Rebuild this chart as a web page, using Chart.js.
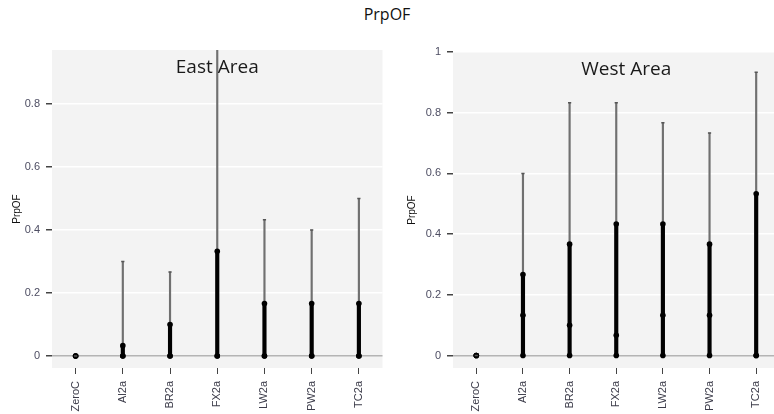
<!DOCTYPE html>
<html>
<head>
<meta charset="utf-8">
<script src="https://cdn.jsdelivr.net/npm/chart.js@4.4.0/dist/chart.umd.min.js"></script>
<style>
  html, body { margin: 0; padding: 0; background: #fff; overflow: hidden; width: 774px; height: 414px; }
  #mainTitle { position: absolute; left: 0; top: 3px; width: 774px; text-align: center;
    font-family: "Open Sans", sans-serif; font-size: 16px; color: #111; }
  #eastBox { position: absolute; left: 0; top: 30px; }
  #westBox { position: absolute; left: 395px; top: 30px; }
</style>
</head>
<body>
<div id="mainTitle">PrpOF</div>
<div id="eastBox"><canvas id="eastChart" width="388" height="384"></canvas></div>
<div id="westBox"><canvas id="westChart" width="390" height="384"></canvas></div>
<script>
// categories and values
var categories = ['ZeroC', 'Al2a', 'BR2a', 'FX2a', 'LW2a', 'PW2a', 'TC2a'];

// East Area
var eastMin = [0, 0, 0, 0, 0, 0, 0];
var eastQ1 = [0, 0, 0, 0, 0, 0, 0];
var eastMedian = [0, 0, 0, 0, 0, 0, 0];
var eastQ3 = [0, 0.033, 0.1, 0.333, 0.167, 0.167, 0.167];
var eastMax = [0, 0.3, 0.267, 1.0, 0.433, 0.4, 0.5];
var eastTicks = [0, 0.2, 0.4, 0.6, 0.8];

// West Area
var westMin = [0, 0, 0, 0, 0, 0, 0];
var westQ1 = [0, 0, 0, 0, 0, 0, 0];
var westMedian = [0, 0.133, 0.1, 0.067, 0.133, 0.133, 0];
var westQ3 = [0, 0.267, 0.367, 0.433, 0.433, 0.367, 0.533];
var westMax = [0, 0.6, 0.833, 0.833, 0.767, 0.733, 0.933];
var westTicks = [0, 0.2, 0.4, 0.6, 0.8, 1];

// panel background + panel title
var panelPlugin = {
    id: 'panel',
    beforeDraw: function (chart) {
        var a = chart.chartArea, ctx = chart.ctx;
        ctx.save();
        ctx.fillStyle = '#f3f3f3';
        ctx.fillRect(a.left, a.top, a.right - a.left, a.bottom - a.top);
        ctx.restore();
    },
    afterDraw: function (chart, args, opts) {
        var a = chart.chartArea, ctx = chart.ctx;
        ctx.save();
        ctx.font = '19px "Open Sans", sans-serif';
        ctx.fillStyle = '#1a1a1a';
        ctx.textAlign = 'center';
        ctx.textBaseline = 'alphabetic';
        ctx.fillText(opts.text, (a.left + a.right) / 2 + (opts.shift || 0), a.top + 23);
        ctx.restore();
    }
};

function makeChart(canvasId, title, shift, mins, q1, med, q3, maxs, ticks, yMin, yMax, yWidth, pad) {
    var ctx = document.getElementById(canvasId);
    var pointStyle = { type: 'line', showLine: false, pointRadius: 2.8, pointHoverRadius: 2.8,
        pointStyle: 'circle', pointBackgroundColor: '#000', pointBorderColor: '#000',
        pointBorderWidth: 0, order: 0 };

    var config = {
        type: 'bar',
        data: {
            labels: categories,
            datasets: [
                {
                    // min..max range
                    data: mins.map(function (v, i) { return [v, maxs[i]]; }),
                    backgroundColor: '#707070',
                    barThickness: 1.5,
                    grouped: false,
                    order: 2
                },
                {
                    // q1..q3
                    data: q1.map(function (v, i) { return [v, q3[i]]; }),
                    backgroundColor: '#000',
                    barThickness: 3.5,
                    grouped: false,
                    order: 1
                },
                {
                    // small cap at the top of the range
                    type: 'line', showLine: false, order: 0,
                    data: maxs, pointStyle: 'line', pointRadius: 1.6, pointBorderWidth: 1.5,
                    pointBorderColor: '#555'
                },
                Object.assign({ data: q1 }, pointStyle),
                Object.assign({ data: med }, pointStyle),
                Object.assign({ data: q3 }, pointStyle)
            ]
        },
        options: {
            responsive: false,
            animation: false,
            layout: { padding: pad },
            plugins: {
                legend: { display: false },
                tooltip: { enabled: false },
                panel: { text: title, shift: shift }
            },
            scales: {
                x: {
                    offset: true,
                    grid: { offset: false, drawOnChartArea: false, tickLength: 6, tickColor: '#444', lineWidth: 1 },
                    border: { display: false },
                    ticks: { minRotation: 90, maxRotation: 90, padding: 7, color: '#3c3c4a',
                        font: { family: 'Liberation Sans', size: 11 } },
                    afterFit: function (s) { s.height = 46; }
                },
                y: {
                    min: yMin,
                    max: yMax,
                    afterBuildTicks: function (s) { s.ticks = ticks.map(function (v) { return { value: v }; }); },
                    grid: {
                        color: function (c) { return c.tick && c.tick.value === 0 ? '#b4b4b4' : '#ffffff'; },
                        lineWidth: 1.5,
                        tickLength: 6,
                        tickColor: '#444'
                    },
                    border: { display: false },
                    ticks: { padding: 6, color: '#4d4d62', font: { family: 'Liberation Sans', size: 11 },
                        callback: function (v) { return String(Math.round(v * 10) / 10); } },
                    title: { display: true, text: 'PrpOF', color: '#111',
                        font: { family: 'Liberation Sans', size: 10 }, padding: { top: 11, bottom: 0 } },
                    afterFit: function (s) { s.width = yWidth; }
                }
            }
        },
        plugins: [panelPlugin]
    };
    return new Chart(ctx, config);
}

makeChart('eastChart', 'East Area', 0, eastMin, eastQ1, eastMedian, eastQ3, eastMax, eastTicks,
    -0.038, 0.972, 52, { top: 20, right: 5, left: 0, bottom: 0 });
makeChart('westChart', 'West Area', 10, westMin, westQ1, westMedian, westQ3, westMax, westTicks,
    -0.041, 1.0, 58, { top: 22, right: 3, left: 0, bottom: 0 });
</script>
</body>
</html>
